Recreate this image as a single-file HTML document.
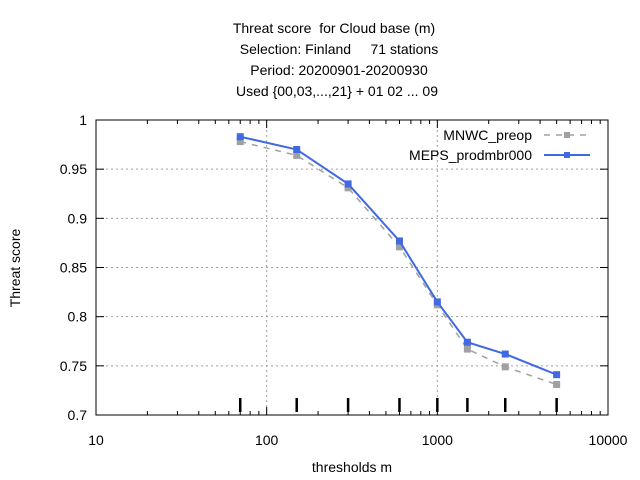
<!DOCTYPE html>
<html><head><meta charset="utf-8"><style>
body{margin:0;background:#fff}
svg{display:block;font-family:"Liberation Sans",sans-serif}
text{white-space:pre}
</style></head><body>
<svg id="c" width="640" height="480">
<g font-size="14" text-anchor="middle" fill="#000">
<text x="334" y="33" xml:space="preserve">Threat score  for Cloud base (m)</text>
<text x="339" y="54" xml:space="preserve">Selection: Finland     71 stations</text>
<text x="339" y="75">Period: 20200901-20200930</text>
<text x="337" y="96">Used {00,03,...,21} + 01 02 ... 09</text>
</g>
<text x="20" y="268" font-size="14" text-anchor="middle" transform="rotate(-90 20 268)">Threat score</text>
<text x="352" y="472" font-size="14" text-anchor="middle">thresholds m</text>
<g id="grid"></g><g id="axes"></g><g id="series"></g>
<g font-size="14" text-anchor="end">
<g><text x="532" y="140">MNWC_preop</text>
<line x1="544" y1="135" x2="590" y2="135" stroke="#a0a0a0" stroke-width="1.5" stroke-dasharray="6,6"/><rect x="564" y="132" width="6" height="6" fill="#a0a0a0"/></g>
<g><text x="532" y="160">MEPS_prodmbr000</text>
<line x1="544" y1="155" x2="590" y2="155" stroke="#4169e1" stroke-width="2"/><rect x="564" y="152" width="6" height="6" fill="#4169e1"/></g>
</g>
</svg>
<script>
const thresholds=[70,150,300,600,1000,1500,2500,5000];
const meps=[0.983,0.970,0.935,0.877,0.815,0.774,0.762,0.741];
const mnwc=[0.978,0.964,0.931,0.871,0.812,0.767,0.749,0.731];
const yTicks=[0.7,0.75,0.8,0.85,0.9,0.95,1];
const yTickLabels=["0.7","0.75","0.8","0.85","0.9","0.95","1"];
const xTicks=[10,100,1000,10000];
const xTickLabels=["10","100","1000","10000"];
const L=96,R=608,T=120,B=415,NS="http://www.w3.org/2000/svg";
const X=v=>L+(Math.log10(v)-1)/3*(R-L);
const Y=v=>B-(v-0.7)/0.3*(B-T);
function mk(t,a,p){const e=document.createElementNS(NS,t);for(const k in a)e.setAttribute(k,a[k]);p.appendChild(e);return e;}
const g=document.getElementById('grid'),ax=document.getElementById('axes'),s=document.getElementById('series');
yTicks.forEach((v,i)=>{
 if(i>0&&i<yTicks.length-1){const l=mk('line',{x1:L,x2:R,y1:Y(v),y2:Y(v),stroke:'#a0a0a0','stroke-dasharray':'2,3'},g);
 
 }
 mk('line',{x1:L,x2:L+8,y1:Y(v),y2:Y(v),stroke:'#000'},ax);mk('line',{x1:R,x2:R-8,y1:Y(v),y2:Y(v),stroke:'#000'},ax);
 const t=mk('text',{x:L-9,y:Y(v)+5,'font-size':14,'text-anchor':'end'},ax);t.textContent=yTickLabels[i];
 
 
});
xTicks.forEach((v,i)=>{
 if(i>0&&i<xTicks.length-1){const l=mk('line',{x1:X(v),x2:X(v),y1:T,y2:B,stroke:'#a0a0a0','stroke-dasharray':'2,3'},g);
 
 }
 mk('line',{x1:X(v),x2:X(v),y1:B,y2:B-8,stroke:'#000'},ax);mk('line',{x1:X(v),x2:X(v),y1:T,y2:T+8,stroke:'#000'},ax);
 const t=mk('text',{x:X(v),y:B+30,'font-size':14,'text-anchor':'middle'},ax);t.textContent=xTickLabels[i];
 
 
 if(i<xTicks.length-1)for(let m=2;m<10;m++){const x=X(v*m);
  mk('line',{x1:x,x2:x,y1:B,y2:B-4,stroke:'#000'},ax);mk('line',{x1:x,x2:x,y1:T,y2:T+4,stroke:'#000'},ax);}
});
const fr=mk('rect',{x:L,y:T,width:R-L,height:B-T,fill:'none',stroke:'#000'},ax);


thresholds.forEach(v=>{const l=mk('line',{x1:X(v),x2:X(v),y1:B-17,y2:B-3,stroke:'#000','stroke-width':2.5},ax);
 
 });
function series(vals,col,w,dash,name){
 const p=mk('polyline',{points:thresholds.map((x,i)=>X(x)+','+Y(vals[i])).join(' '),fill:'none',stroke:col,'stroke-width':w},s);
 if(dash)p.setAttribute('stroke-dasharray',dash);
 
 
 thresholds.forEach((x,i)=>{const r=mk('rect',{x:X(x)-3.5,y:Y(vals[i])-3.5,width:7,height:7,fill:col},s);
  
  });
}
series(mnwc,'#a0a0a0',1.5,'6,6','mnwc');
series(meps,'#4169e1',2,null,'meps');
</script>
</body></html>
